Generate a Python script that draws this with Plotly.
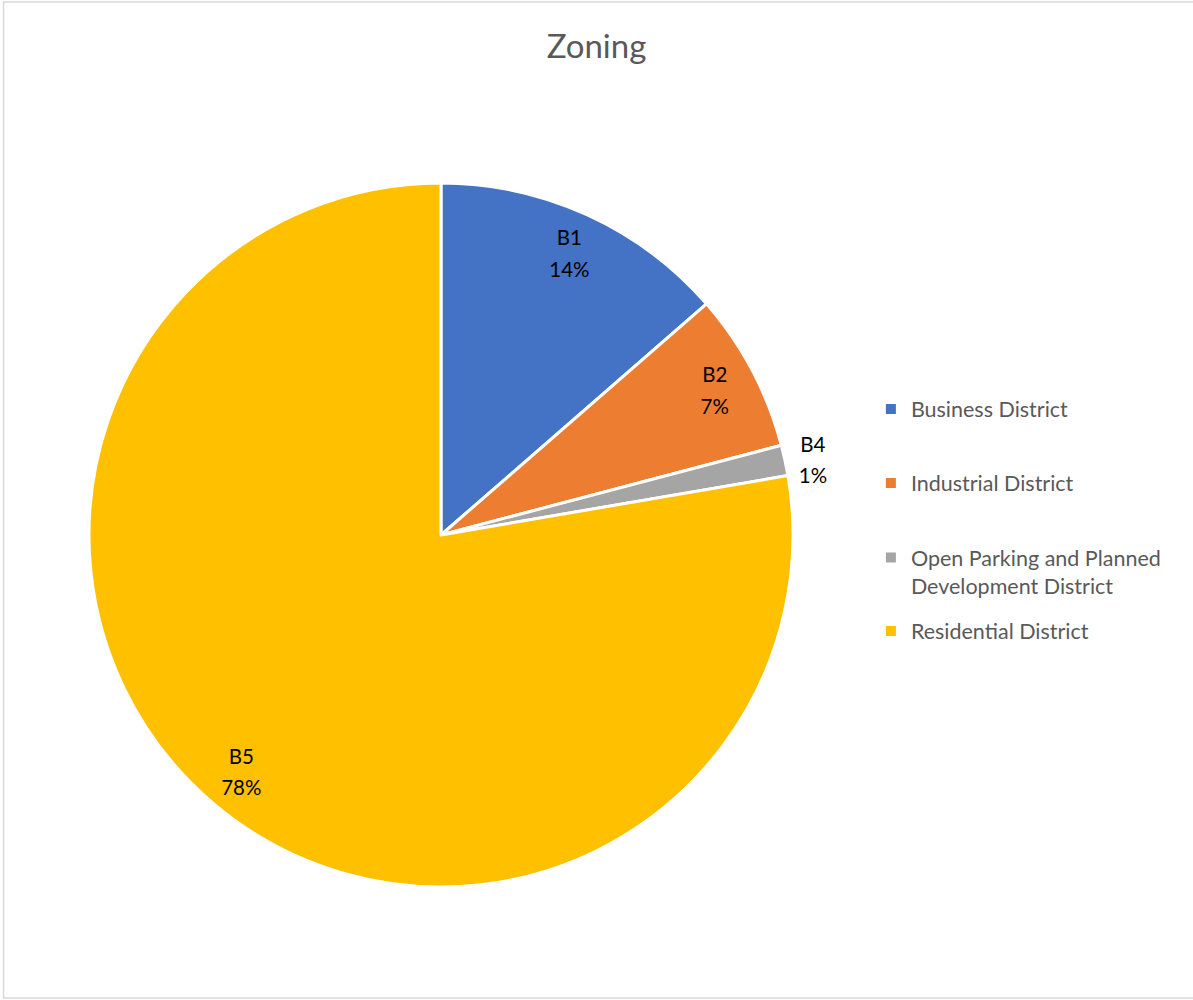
import plotly.graph_objects as go

codes = ["B1", "B2", "B4", "B5"]
names = ["Business District", "Industrial District",
         "Open Parking and Planned<br>Development District", "Residential District"]
values = [13.6, 7.3, 1.4, 77.7]
colors = ["#4472C4", "#ED7D31", "#A5A5A5", "#FFC000"]
text_pos = ["inside", "inside", "outside", "inside"]

FONT = "Lato, 'Open Sans', sans-serif"
PIE_DOMAIN = dict(x=[0.0746, 0.6647], y=[0.113, 0.817])

fig = go.Figure()
# the slices
fig.add_trace(go.Pie(
    labels=names, values=values, textinfo="none",
    marker=dict(colors=colors, line=dict(color="white", width=3)),
    sort=False, direction="clockwise", rotation=0,
    domain=PIE_DOMAIN, showlegend=False, hoverinfo="label+percent",
))
# data labels: a transparent ring on top, so labels sit near the rim as in Excel
fig.add_trace(go.Pie(
    labels=names, values=values, text=codes, hole=0.76,
    texttemplate="<span style='font-size:20.5px'>%{text}</span><br>"
                 "<span style='font-size:20.5px'>%{percent:.0%}</span>",
    textposition=text_pos,
    insidetextorientation="horizontal",
    textfont=dict(family=FONT, size=24, color="black"),
    marker=dict(colors=["rgba(0,0,0,0)"] * len(values), line=dict(width=0)),
    sort=False, direction="clockwise", rotation=0,
    domain=PIE_DOMAIN, showlegend=False, hoverinfo="skip",
))

# legend entries (one legend per entry to reproduce Excel's spacing)
legend_y = [0.591, 0.517, 0.4285, 0.369]
legend_valign = ["middle", "middle", "top", "middle"]
for i, (nm, col) in enumerate(zip(names, colors)):
    lname = "legend" if i == 0 else f"legend{i+1}"
    fig.add_trace(go.Scatter(
        x=[None], y=[None], mode="markers", name=nm,
        marker=dict(symbol="square", size=10, color=col),
        legend=lname, showlegend=True,
    ))

legend_common = dict(x=0.730, xanchor="left", yanchor="middle",
                     font=dict(family=FONT, size=21.5, color="#595959"),
                     bgcolor="rgba(0,0,0,0)", borderwidth=0)
layout_legends = {}
for i in range(4):
    lname = "legend" if i == 0 else f"legend{i+1}"
    layout_legends[lname] = dict(legend_common, y=legend_y[i], valign=legend_valign[i])

fig.update_layout(
    width=1193, height=1000,
    margin=dict(l=0, r=0, t=0, b=0),
    paper_bgcolor="white", plot_bgcolor="white",
    title=dict(text="Zoning", x=0.5, xanchor="center", y=0.954, yanchor="middle",
               font=dict(family=FONT, size=33, color="#595959")),
    xaxis=dict(visible=False), yaxis=dict(visible=False),
    shapes=[dict(type="rect", xref="paper", yref="paper",
                 x0=0.003, x1=1.01, y0=0.002, y1=0.998,
                 line=dict(color="#D9D9D9", width=1.5), fillcolor="rgba(0,0,0,0)")],
    **layout_legends,
)

fig.write_html("out.html", config={"displayModeBar": False},
               post_script="document.body.style.margin='0';")
